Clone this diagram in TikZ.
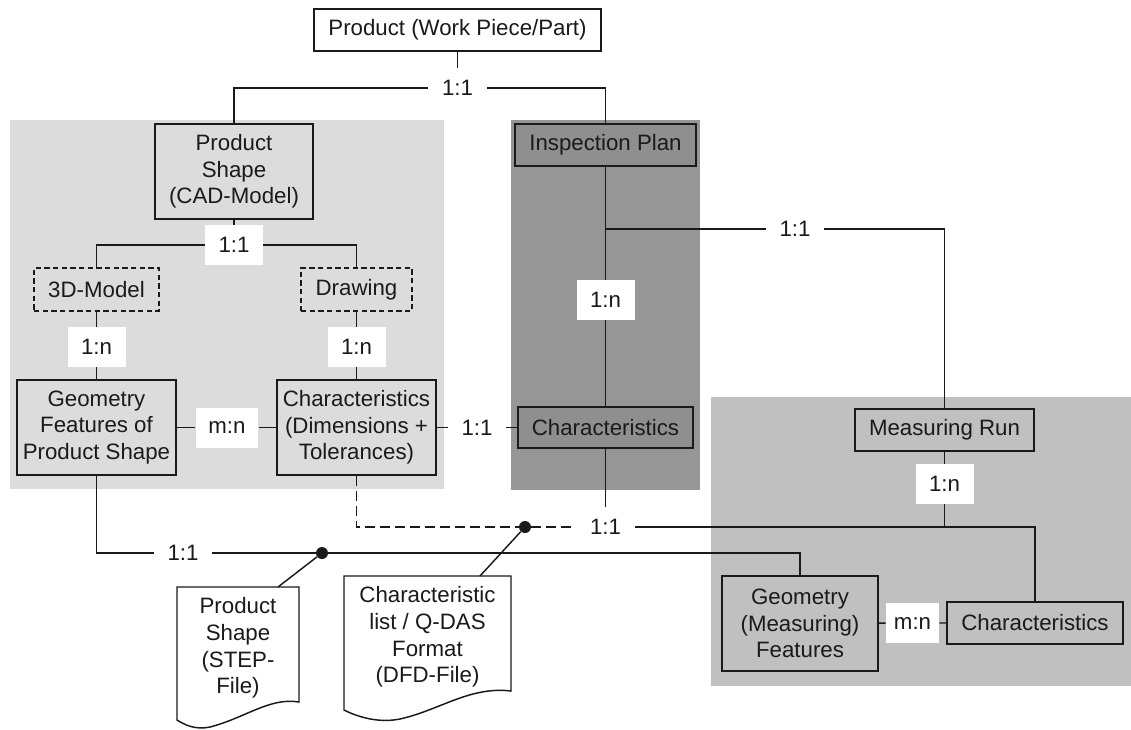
\documentclass[tikz,border=0pt]{standalone}
\usepackage{fontspec}
\setmainfont{Liberation Sans}
\definecolor{lightpanel}{HTML}{DCDCDC}
\definecolor{darkpanel}{HTML}{969696}
\definecolor{midpanel}{HTML}{C0C0C0}
\definecolor{darkbox}{HTML}{8F8F8F}
\definecolor{ink}{HTML}{1A1A1A}
\begin{document}
\begin{tikzpicture}[x=0.75pt,y=-0.75pt,
  every node/.style={font=\fontsize{16.7}{20}\selectfont, text=ink},
  box/.style={draw=ink, line width=1.1pt, inner sep=0pt, align=center},
  dbox/.style={box, dash pattern=on 4pt off 2.5pt},
  lab/.style={fill=white, inner sep=0pt, minimum width=43.5pt, minimum height=30pt},
  conn/.style={draw=ink, line width=1.1pt},
  dconn/.style={conn, dash pattern=on 7.5pt off 3.75pt},
  jdot/.style={circle, fill=ink, inner sep=0pt, minimum size=9pt},
  docshape/.style={draw=ink, line width=1.1pt, fill=white}]
\useasboundingbox (0,0) rectangle (1131,729);
% panels
\fill[lightpanel] (10,120) rectangle (444,489);
\fill[darkpanel] (511,120) rectangle (700,490);
\fill[midpanel] (711,397) rectangle (1131,686);
% document shapes
\draw[docshape] (177,587) -- (299,587) -- (299,702) .. controls (270,697) and (245,718) .. (210,727) .. controls (195,730) and (185,725) .. (177,720) -- cycle;
\draw[docshape] (344,576) -- (511,576) -- (511,691) .. controls (470,686) and (440,710) .. (400,719) .. controls (380,723) and (360,718) .. (344,710) -- cycle;
% boxes
\node[box, fill=white, minimum width=215.25pt, minimum height=31.5pt] (prod) at (457.5,30) {Product (Work Piece/Part)};
\node[box, fill=lightpanel, minimum width=118.5pt, minimum height=71.25pt] (psh) at (234,171.5) {Product\\Shape\\(CAD-Model)};
\node[dbox, minimum width=93.75pt, minimum height=32.25pt] (m3d) at (96.5,289.5) {3D-Model};
\node[dbox, minimum width=83.25pt, minimum height=32.25pt] (drw) at (356.5,289.5) {Drawing};
\node[box, fill=lightpanel, minimum width=119.25pt, minimum height=71.25pt] (geo) at (96.5,427.5) {Geometry\\Features of\\Product Shape};
\node[box, fill=lightpanel, minimum width=119.25pt, minimum height=71.25pt] (chr) at (356.5,427.5) {Characteristics\\(Dimensions +\\Tolerances)};
\node[box, fill=darkbox, minimum width=135.75pt, minimum height=31.5pt] (insp) at (605.5,145) {Inspection Plan};
\node[box, fill=darkbox, minimum width=131.25pt, minimum height=30.75pt] (ichr) at (605.5,427.5) {Characteristics};
\node[box, fill=midpanel, minimum width=134.25pt, minimum height=31.5pt] (mrun) at (944.5,430) {Measuring Run};
\node[box, fill=midpanel, minimum width=117pt, minimum height=71.25pt] (mgeo) at (800,623.5) {Geometry\\(Measuring)\\Features};
\node[box, fill=midpanel, minimum width=132pt, minimum height=31.5pt] (mchr) at (1035,623) {Characteristics};
\node[inner sep=0pt, align=center] (doc1) at (238,648) {Product\\Shape\\(STEP-\\File)};
\node[inner sep=0pt, align=center] (doc2) at (427.5,637) {Characteristic\\list / Q-DAS\\Format\\(DFD-File)};
% labels
\node[lab] (l1) at (457.5,88) {1:1};
\node[lab] (l2) at (234,245) {1:1};
\node[lab] (l3) at (96.5,347) {1:n};
\node[lab] (l4) at (356.5,347) {1:n};
\node[lab, minimum width=47pt] (l5) at (227,427.5) {m:n};
\node[lab] (l6) at (477,427.5) {1:1};
\node[lab] (l7) at (605.5,300) {1:n};
\node[lab] (l8) at (795,229) {1:1};
\node[lab] (l9) at (605.5,527) {1:1};
\node[lab] (l10) at (944.5,484) {1:n};
\node[lab] (l11) at (183,553) {1:1};
\node[lab, minimum width=40pt] (l12) at (912.5,623) {m:n};
% junctions
\coordinate (br1) at (605.5,229);
\coordinate (jn) at (944.5,527);
\node[jdot] (dot1) at (322,553) {};
\node[jdot] (dot2) at (525,527) {};
\coordinate (d1top) at (278,587);
\coordinate (d2top) at (480,576);
% connectors
\draw[conn] (prod) -- (l1);
\draw[conn] (l1) -| (psh);
\draw[conn] (l1) -| (insp);
\draw[conn] (psh) -- (l2);
\draw[conn] (l2) -| (m3d);
\draw[conn] (l2) -| (drw);
\draw[conn] (m3d) -- (l3) -- (geo);
\draw[conn] (drw) -- (l4) -- (chr);
\draw[conn] (geo) -- (l5) -- (chr);
\draw[conn] (chr) -- (l6) -- (ichr);
\draw[conn] (insp) -- (l7) -- (ichr);
\draw[conn] (br1) -- (l8);
\draw[conn] (l8) -| (mrun);
\draw[conn] (ichr) -- (l9);
\draw[dconn] (chr.south) |- (dot2);
\draw[dconn] (dot2) -- (l9);
\draw[conn] (l9) -- (jn) -| (mchr);
\draw[conn] (mrun) -- (l10) -- (jn);
\draw[conn] (geo.south) |- (l11);
\draw[conn] (l11) -- (dot1) -| (mgeo);
\draw[conn] (mgeo) -- (l12) -- (mchr);
\draw[conn] (dot1) -- (d1top);
\draw[conn] (dot2) -- (d2top);
\end{tikzpicture}
\end{document}
